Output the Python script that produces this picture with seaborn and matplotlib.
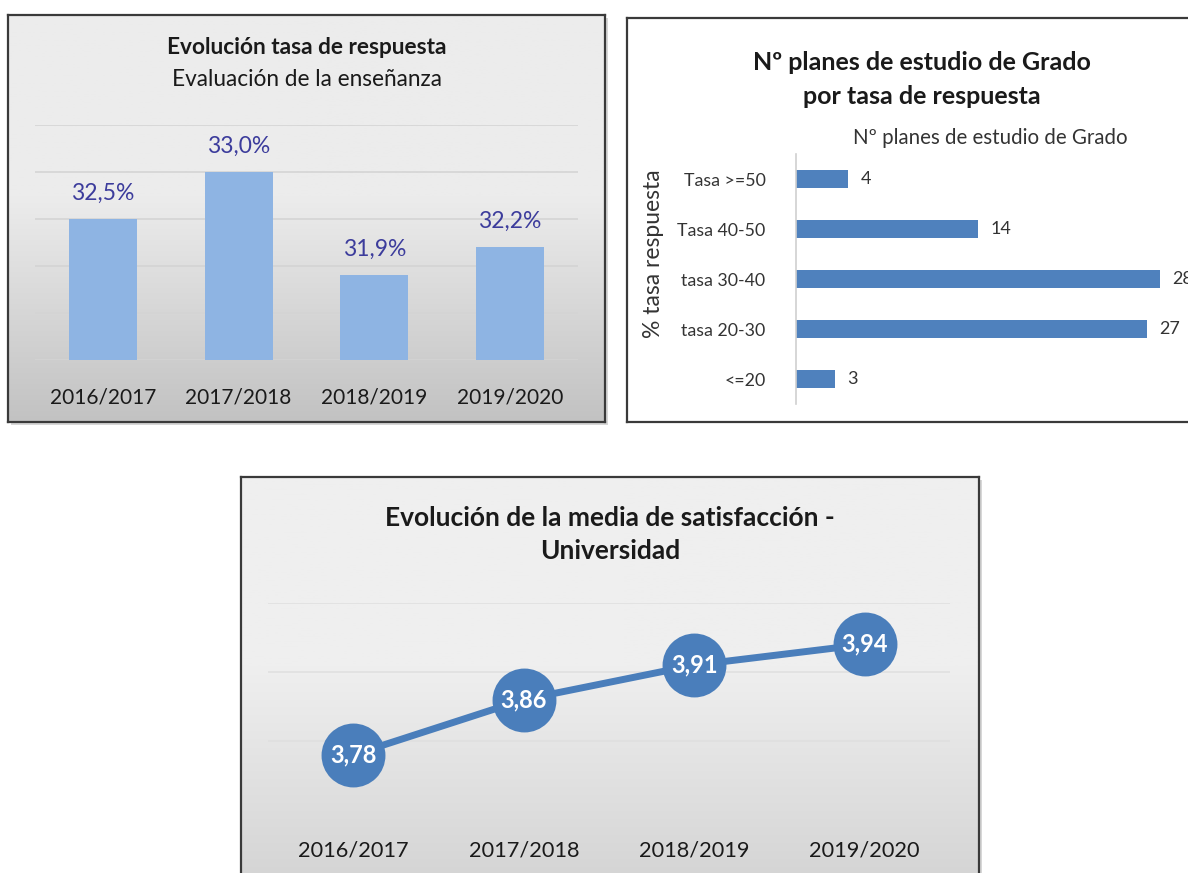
import numpy as np
import pandas as pd
import matplotlib
matplotlib.use("Agg")
import matplotlib.pyplot as plt
import seaborn as sns

# ---------------- data ----------------
years = ["2016/2017", "2017/2018", "2018/2019", "2019/2020"]
tasa_respuesta = [32.5, 33.0, 31.9, 32.2]

rangos = ["Tasa >=50", "Tasa 40-50", "tasa 30-40", "tasa 20-30", "<=20"]
n_planes = [4, 14, 28, 27, 3]

media_satisfaccion = [3.78, 3.86, 3.91, 3.94]

sns.set_theme(style="white")
plt.rcParams["font.family"] = ["Lato", "DejaVu Sans"]

W, H = 1188, 873
fig = plt.figure(figsize=(W / 100, H / 100), dpi=100)
fig.patch.set_facecolor("white")


def rect(x0, y0, x1, y1):
    return [x0 / W, 1 - y1 / H, (x1 - x0) / W, (y1 - y0) / H]


def frame(x0, y0, x1, y1, top, bottom, shadow=True, gradient=True):
    if shadow:
        sh = fig.add_axes(rect(x0 + 3, y0 + 3, x1 + 3, y1 + 3))
        sh.set_facecolor("#b0b0b0")
        sh.set_xticks([]); sh.set_yticks([])
        for s in sh.spines.values():
            s.set_visible(False)
        sh.patch.set_alpha(0.5)
    ax = fig.add_axes(rect(x0, y0, x1, y1))
    if gradient:
        c0 = np.array(matplotlib.colors.to_rgb(top))
        c1 = np.array(matplotlib.colors.to_rgb(bottom))
        t = np.linspace(0, 1, 256)
        t = np.clip((t - 0.45) / 0.55, 0, 1)
        img = c0[None, :] * (1 - t[:, None]) + c1[None, :] * t[:, None]
        ax.imshow(img[:, None, :], aspect="auto", extent=[0, 1, 0, 1])
    else:
        ax.set_facecolor(top)
    ax.set_xlim(0, 1); ax.set_ylim(0, 1)
    ax.set_xticks([]); ax.set_yticks([])
    for s in ax.spines.values():
        s.set_color("#3a3a3a")
        s.set_linewidth(1.6)
    return ax


# ================= Panel 1 =================
frame(8, 15, 605, 422, "#ececec", "#c2c2c2")
fig.text(307 / W, 1 - 48 / H, "Evolución tasa de respuesta", ha="center", va="center",
         fontsize=16.3, fontweight="bold", color="#1a1a1a")
fig.text(307 / W, 1 - 80 / H, "Evaluación de la enseñanza", ha="center", va="center",
         fontsize=16.3, color="#1a1a1a")

ax1 = fig.add_axes(rect(35, 125, 578, 360))
ax1.patch.set_alpha(0)
df1 = pd.DataFrame({"year": years, "tasa": tasa_respuesta})
sns.barplot(data=df1, x="year", y="tasa", color="#8eb4e3", width=0.5,
            saturation=1, ax=ax1, zorder=3, linewidth=0)
ax1.set_ylim(31.0, 33.5)
ax1.set_xlim(-0.5, 3.5)
ax1.set_yticks(np.arange(31.0, 33.51, 0.5))
ax1.yaxis.grid(True, color="#d4d4d4", linewidth=1.2, zorder=0)
ax1.set_axisbelow(True)
ax1.set_yticklabels([])
ax1.tick_params(axis="y", length=0)
ax1.tick_params(axis="x", length=0, pad=20, labelsize=15, labelcolor="#1a1a1a")
ax1.set_xlabel(""); ax1.set_ylabel("")
for s in ax1.spines.values():
    s.set_visible(False)
for i, v in enumerate(tasa_respuesta):
    ax1.annotate(f"{v:.1f}%".replace(".", ","), (i, v), xytext=(0, 11),
                 textcoords="offset points", ha="center", va="bottom",
                 fontsize=16.5, color="#3c3c9c")

# ================= Panel 2 =================
frame(627, 18, 1200, 422, "white", "white", shadow=False, gradient=False)
fig.text(922 / W, 1 - 62 / H, "Nº planes de estudio de Grado", ha="center", va="center",
         fontsize=18, fontweight="bold", color="#1a1a1a")
fig.text(922 / W, 1 - 96 / H, "por tasa de respuesta", ha="center", va="center",
         fontsize=18, fontweight="bold", color="#1a1a1a")
fig.text(990 / W, 1 - 138 / H, "Nº planes de estudio de Grado", ha="center", va="center",
         fontsize=14.8, color="#333333")

ax2 = fig.add_axes(rect(796, 154, 1188, 404))
ax2.patch.set_alpha(0)
df2 = pd.DataFrame({"rango": rangos, "n": n_planes})
sns.barplot(data=df2, y="rango", x="n", color="#4f81bd", width=0.36,
            saturation=1, ax=ax2, orient="h", linewidth=0)
ax2.set_xlim(0, 392 / 13.0)
ax2.set_ylim(4.5, -0.5)
ax2.set_xticks([])
ax2.set_xlabel("")
ax2.set_ylabel("% tasa respuesta", fontsize=16.5, color="#333333")
ax2.yaxis.set_label_coords(-132 / 392, 0.6)
ax2.tick_params(axis="y", length=0, pad=22, labelsize=12.8, labelcolor="#333333")
for k, s in ax2.spines.items():
    s.set_visible(k == "left")
ax2.spines["left"].set_color("#d0d0d0")
ax2.spines["left"].set_linewidth(1.2)
for i, v in enumerate(n_planes):
    ax2.annotate(str(v), (v, i), xytext=(9, 0), textcoords="offset points",
                 ha="left", va="center", fontsize=13, color="#333333",
                 annotation_clip=False)

# ================= Panel 3 =================
frame(241, 477, 979, 900, "#efefef", "#d2d2d2")
fig.text(610 / W, 1 - 518 / H, "Evolución de la media de satisfacción -", ha="center",
         va="center", fontsize=19, fontweight="bold", color="#1a1a1a")
fig.text(610 / W, 1 - 551 / H, "Universidad", ha="center", va="center",
         fontsize=19, fontweight="bold", color="#1a1a1a")

ax3 = fig.add_axes(rect(268, 603, 950, 810))
ax3.patch.set_alpha(0)
df3 = pd.DataFrame({"x": np.arange(len(years)), "media": media_satisfaccion})
sns.lineplot(data=df3, x="x", y="media", color="#4a7ebb", linewidth=5,
             marker="o", markersize=46, markeredgewidth=0, ax=ax3, clip_on=False,
             zorder=3)
ax3.set_xlim(-0.5, 3.5)
ax3.set_ylim(3.7, 4.0)
ax3.set_yticks([3.8, 3.9, 4.0])
ax3.yaxis.grid(True, color="#e0e0e0", linewidth=1.2, zorder=0)
ax3.set_yticklabels([])
ax3.tick_params(axis="y", length=0)
ax3.set_xticks(range(len(years)))
ax3.set_xticklabels(years)
ax3.tick_params(axis="x", length=0, pad=22, labelsize=15.7, labelcolor="#1a1a1a")
ax3.set_xlabel(""); ax3.set_ylabel("")
for s in ax3.spines.values():
    s.set_visible(False)
for i, v in enumerate(media_satisfaccion):
    ax3.text(i, v, f"{v:.2f}".replace(".", ","), ha="center", va="center",
             fontsize=17, fontweight="bold", color="white", zorder=5)

fig.savefig("out.png", dpi=100)
